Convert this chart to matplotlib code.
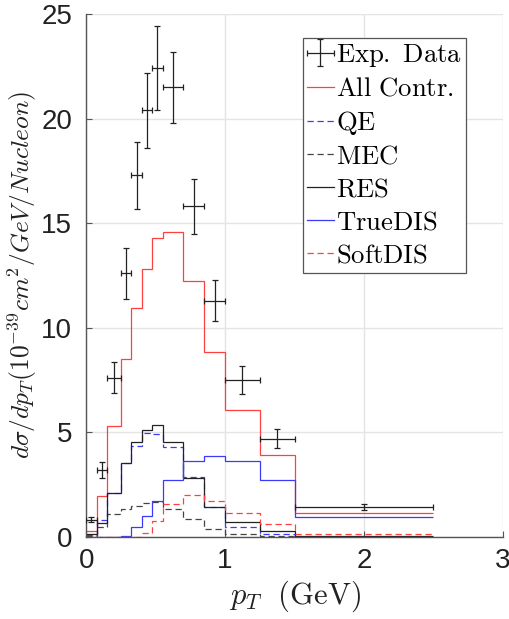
import matplotlib
matplotlib.use('Agg')
import matplotlib.pyplot as plt
import numpy as np

# pT bins (GeV)
edges = [0, 0.075, 0.15, 0.25, 0.325, 0.4, 0.475, 0.55, 0.7, 0.85, 1.0, 1.25, 1.5, 2.5]

# measured cross section and errors
data = [0.83, 3.2, 7.6, 12.6, 17.3, 20.4, 22.4, 21.5, 15.8, 11.3, 7.5, 4.7, 1.43]
data_err = [0.12, 0.38, 0.74, 1.22, 1.6, 1.8, 2.0, 1.7, 1.3, 0.96, 0.66, 0.45, 0.14]

# model contributions
all_contr = [0.28, 1.97, 5.29, 8.51, 10.93, 12.81, 14.29, 14.56, 12.22, 8.86, 6.09, 3.90, 1.15]
qe = [0.1, 0.8, 2.1, 3.54, 4.36, 4.97, 4.92, 4.28, 2.85, 1.43, 0.46, 0.14, 0.02]
mec = [0.03, 0.5, 1.11, 1.35, 1.50, 1.62, 1.65, 1.35, 0.86, 0.38, 0.13, 0.05, 0.01]
res = [0.15, 0.65, 2.1, 3.54, 4.52, 5.10, 5.34, 4.56, 2.82, 1.42, 0.70, 0.27, 0.03]
true_dis = [0, 0, 0, 0.04, 0.48, 0.99, 1.70, 2.74, 3.61, 3.89, 3.61, 2.74, 0.96]
soft_dis = [0, 0, 0, 0, 0, 0.19, 0.75, 1.59, 2.02, 1.70, 1.15, 0.64, 0.16]

plt.rcParams['mathtext.fontset'] = 'cm'
plt.rcParams['font.family'] = ['Liberation Sans', 'DejaVu Sans']

e = np.array(edges)
centers = (e[:-1] + e[1:]) / 2
half_w = (e[1:] - e[:-1]) / 2

fig = plt.figure(figsize=[5.10, 6.19], dpi=100)
ax = fig.add_axes([0.169, 0.1325, 0.817, 0.845])

lw = 0.9
dash = (0, (5, 3))
ax.errorbar(centers, data, yerr=data_err, xerr=half_w, fmt='none', ecolor='#222222',
            elinewidth=0.9, capsize=2.5, capthick=0.9, label=r'$\mathrm{Exp.\ Data}$', zorder=5)
ax.stairs(all_contr, edges, baseline=None, color='#ff4040', lw=lw, label=r'$\mathrm{All\ Contr.}$')
ax.stairs(qe, edges, baseline=None, color='#3a3aff', lw=lw, linestyle=dash, label=r'$\mathrm{QE}$')
ax.stairs(mec, edges, baseline=None, color='#444444', lw=lw, linestyle=dash, label=r'$\mathrm{MEC}$')
ax.stairs(res, edges, baseline=None, color='#222222', lw=lw, label=r'$\mathrm{RES}$')
ax.stairs(true_dis, edges, baseline=None, color='#3a3aff', lw=lw, label=r'$\mathrm{TrueDIS}$')
ax.stairs(soft_dis, edges, baseline=None, color='#ff4040', lw=lw, linestyle=dash, label=r'$\mathrm{SoftDIS}$')

ax.set_xlim(0, 3)
ax.set_ylim(0, 25)
ax.set_xticks([0, 1, 2, 3])
ax.set_yticks([0, 5, 10, 15, 20, 25])
ax.grid(True, color='#e4e4e4', lw=1.0)
ax.set_axisbelow(True)
for s in ['top', 'right']:
    ax.spines[s].set_visible(False)
for s in ['left', 'bottom']:
    ax.spines[s].set_color('#555555')
    ax.spines[s].set_linewidth(1.0)
ax.tick_params(direction='in', length=4, width=0.8, color='#555555', labelsize=20,
               labelcolor='#222222')
ax.tick_params(axis='x', pad=8)
ax.tick_params(axis='y', pad=10)

ax.set_xlabel(r'$p_T\ \ \mathrm{(GeV)}$', fontsize=22, labelpad=3, color='#222222')
ax.set_ylabel(r'$d\sigma/dp_T(10^{-39}cm^2/GeV/Nucleon)$', fontsize=18.3, labelpad=2, color='#222222')

handles, labels = ax.get_legend_handles_labels()
order = [labels.index(r'$\mathrm{Exp.\ Data}$')] + [i for i in range(len(labels)) if labels[i] != r'$\mathrm{Exp.\ Data}$']
leg = ax.legend([handles[i] for i in order], [labels[i] for i in order],
                loc='upper left', bbox_to_anchor=(0.52, 0.954), fontsize=19.2, handlelength=1.0,
                handletextpad=0.1, borderaxespad=0, borderpad=0.15, labelspacing=0.26,
                fancybox=False, framealpha=1, edgecolor='#555555')
leg.get_frame().set_linewidth(0.9)

plt.savefig('out.png', dpi=100)
